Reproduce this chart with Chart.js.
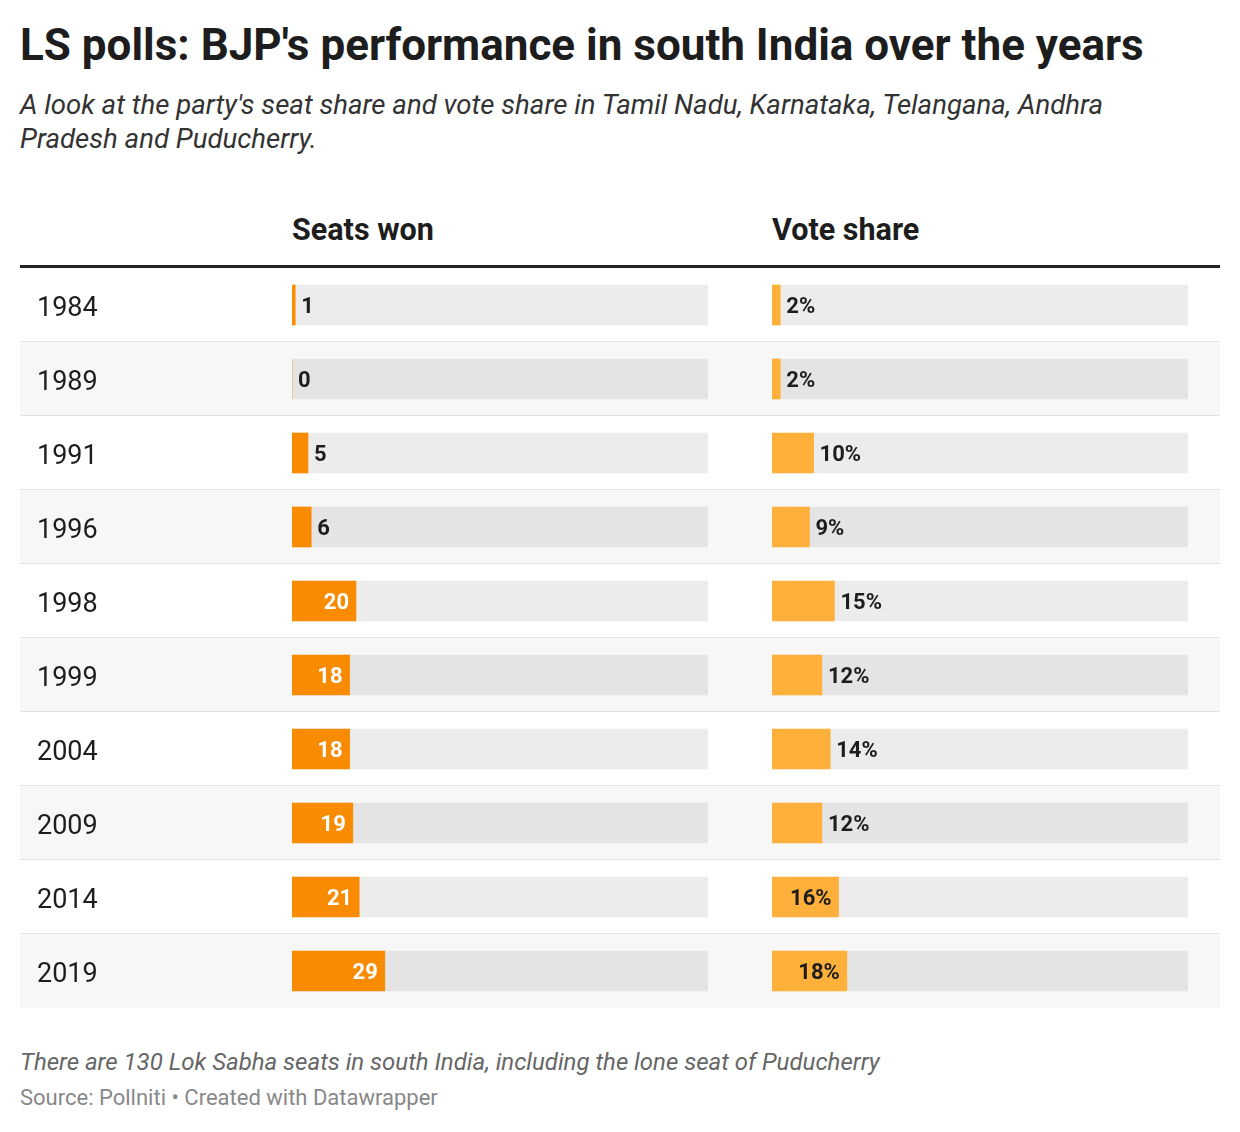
<!DOCTYPE html>
<html>
<head>
<meta charset="utf-8">
<script src="https://cdn.jsdelivr.net/npm/chart.js@4/dist/chart.umd.min.js"></script>
<style>
    body { margin: 0; background: #fff; font-family: Roboto, sans-serif; color: #1d1d1d; }
    .wrap { position: relative; width: 1240px; height: 1132px; }
    h1 { position: absolute; left: 20px; top: 19px; margin: 0; font-size: 44px; font-weight: 700; line-height: 52px; }
    .sub { position: absolute; left: 20px; top: 88px; width: 1170px; margin: 0; font-size: 27.6px; font-style: italic; line-height: 34px; color: #333; }
    .head { position: absolute; top: 212px; font-size: 30.5px; font-weight: 700; }
    .rule { position: absolute; left: 20px; top: 265px; width: 1200px; height: 3px; background: #222; }
    .rows { position: absolute; left: 20px; top: 268px; width: 1200px; }
    .row { height: 73px; border-bottom: 1px solid #e3e3e3; }
    .row:nth-child(even) { background: #f7f7f7; }
    .row:last-child { border-bottom: 1px solid transparent; }
    canvas { position: absolute; top: 268px; }
    .note { position: absolute; left: 20px; top: 1048px; font-size: 24px; font-style: italic; color: #666; }
    .src { position: absolute; left: 20px; top: 1085px; font-size: 22px; color: #888; }
</style>
</head>
<body>
<div class="wrap">
    <h1>LS polls: BJP's performance in south India over the years</h1>
    <p class="sub">A look at the party's seat share and vote share in Tamil Nadu, Karnataka, Telangana, Andhra Pradesh and Puducherry.</p>
    <div class="head" style="left: 292px;">Seats won</div>
    <div class="head" style="left: 772px;">Vote share</div>
    <div class="rows" id="rows"></div>
    <div class="rule"></div>
    <canvas id="seatsChart" width="688" height="740" style="left: 20px;"></canvas>
    <canvas id="voteChart" width="416" height="740" style="left: 772px;"></canvas>
    <div class="note">There are 130 Lok Sabha seats in south India, including the lone seat of Puducherry</div>
    <div class="src">Source: Pollniti • Created with Datawrapper</div>
</div>
<script>
const years = ["1984", "1989", "1991", "1996", "1998", "1999", "2004", "2009", "2014", "2019"];
const seatsWon = [1, 0, 5, 6, 20, 18, 18, 19, 21, 29];
const voteShare = [2, 2, 10, 9, 15, 12, 14, 12, 16, 18];
const totalSeats = 130;
const fullVote = 100;

// writes the value next to (or inside) each bar
const barLabels = {
    id: "barLabels",
    afterDatasetsDraw(chart, args, opts) {
        const ctx = chart.ctx;
        const values = chart.data.datasets[0].data;
        ctx.save();
        ctx.font = "bold 22px Roboto";
        ctx.textBaseline = "middle";
        chart.getDatasetMeta(0).data.forEach((bar, i) => {
            const text = values[i] + opts.suffix;
            if (values[i] >= opts.insideFrom) {
                ctx.textAlign = "right";
                ctx.fillStyle = opts.insideColor;
                ctx.fillText(text, bar.x - 7, bar.y + 2);
            } else {
                ctx.textAlign = "left";
                ctx.fillStyle = "#1d1d1d";
                ctx.fillText(text, bar.x + 6, bar.y + 2);
            }
        });
        ctx.restore();
    },
};

document.addEventListener("DOMContentLoaded", () => {
    const rows = document.getElementById("rows");
    years.forEach(() => {
        const row = document.createElement("div");
        row.className = "row";
        rows.appendChild(row);
    });
    Chart.defaults.font.family = "Roboto";
    showBars("seatsChart", seatsWon, totalSeats, "#f98b00", { suffix: "", insideFrom: 18, insideColor: "#ffffff" }, true);
    showBars("voteChart", voteShare, fullVote, "#ffb03b", { suffix: "%", insideFrom: 16, insideColor: "#1d1d1d" }, false);
});

function showBars(canvasId, values, max, color, labelOpts, withYears) {
    const ctx = document.getElementById(canvasId).getContext("2d");
    new Chart(ctx, {
        type: "bar",
        data: {
            labels: years,
            datasets: [
                {
                    data: values,
                    backgroundColor: color,
                    grouped: false,
                    order: 0,
                },
                {
                    data: years.map(() => max),
                    backgroundColor: "rgba(0, 0, 0, 0.075)",
                    grouped: false,
                    order: 1,
                },
            ],
        },
        options: {
            indexAxis: "y",
            responsive: false,
            animation: false,
            barThickness: 40,
            borderWidth: 0,
            layout: {
                padding: { left: withYears ? 17 : 0, right: 0, top: 0, bottom: 0 },
            },
            scales: {
                x: { display: false, min: 0, max: max },
                y: {
                    display: withYears,
                    grid: { display: false },
                    border: { display: false },
                    ticks: {
                        crossAlign: "far",
                        labelOffset: 4,
                        color: "#1d1d1d",
                        font: { size: 27 },
                    },
                    afterFit: (scale) => {
                        if (!withYears) return;
                        scale.width = 255; // year column up to the bars
                        scale.paddingTop = 0;
                        scale.paddingBottom = 0;
                    },
                },
            },
            plugins: {
                legend: { display: false },
                tooltip: { enabled: false },
                barLabels: labelOpts,
            },
        },
        plugins: [barLabels],
    });
}
</script>
</body>
</html>
